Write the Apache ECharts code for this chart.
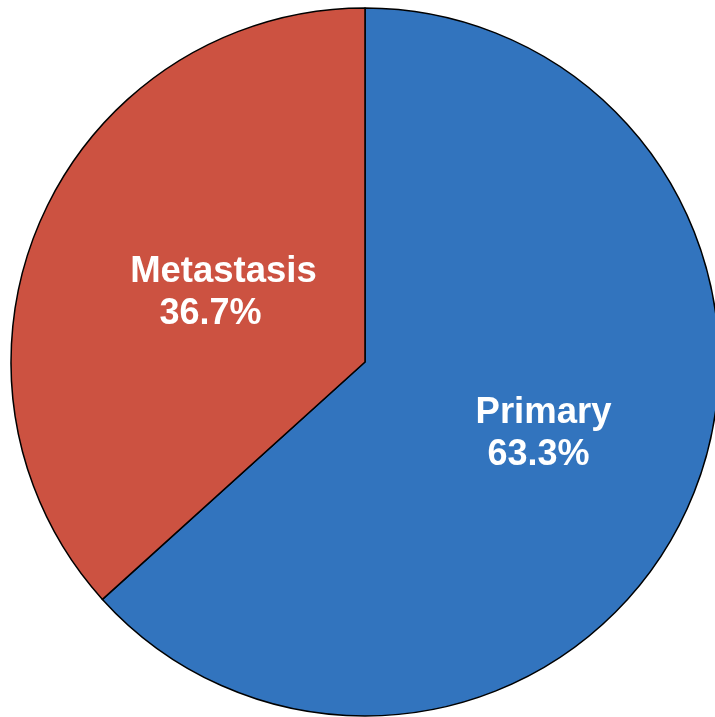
<!DOCTYPE html>
<html>
<head>
<meta charset="utf-8">
<title>Primary vs Metastasis</title>
<script src="https://cdn.jsdelivr.net/npm/echarts@6/dist/echarts.min.js"></script>
<style>
  html, body { margin: 0; padding: 0; background: #ffffff; }
  #chart { width: 715px; height: 717px; }
</style>
</head>
<body>
<div id="chart"></div>
<script>
// Sample origin shares (percent)
const categories = ['Primary', 'Metastasis'];
const shares = [63.3, 36.7];
const sliceColors = ['#3274be', '#cc5241'];

// Per-slice fine tuning of the inside label placement
const labelShiftX = [14, 23];
const labelShiftY = [-1, 4];
const pctPadRight = [10, 26];

const chart = echarts.init(document.getElementById('chart'), null, { renderer: 'canvas' });

const data = categories.map((name, i) => ({
  name: name,
  value: shares[i],
  itemStyle: { color: sliceColors[i] },
  label: {
    rich: {
      n: { fontSize: 36.5, fontWeight: 'bold', color: '#ffffff', lineHeight: 42,
           fontFamily: 'Liberation Sans, Arial, sans-serif' },
      p: { fontSize: 36, fontWeight: 'bold', color: '#ffffff', lineHeight: 43,
           fontFamily: 'Liberation Sans, Arial, sans-serif',
           padding: [0, pctPadRight[i], 0, 0] }
    }
  }
}));

chart.setOption({
  backgroundColor: '#ffffff',
  animation: false,
  series: [{
    type: 'pie',
    center: [365, 362],
    radius: 354,
    startAngle: 90,
    clockwise: true,
    avoidLabelOverlap: false,
    itemStyle: { borderColor: '#000000', borderWidth: 1.5 },
    label: {
      show: true,
      position: 'inside',
      formatter: p => '{n|' + p.name + '}\n{p|' + p.value.toFixed(1) + '%}'
    },
    labelLine: { show: false },
    labelLayout: params => ({ dx: labelShiftX[params.dataIndex], dy: labelShiftY[params.dataIndex] }),
    emphasis: { disabled: true },
    data: data
  }]
});
</script>
</body>
</html>
